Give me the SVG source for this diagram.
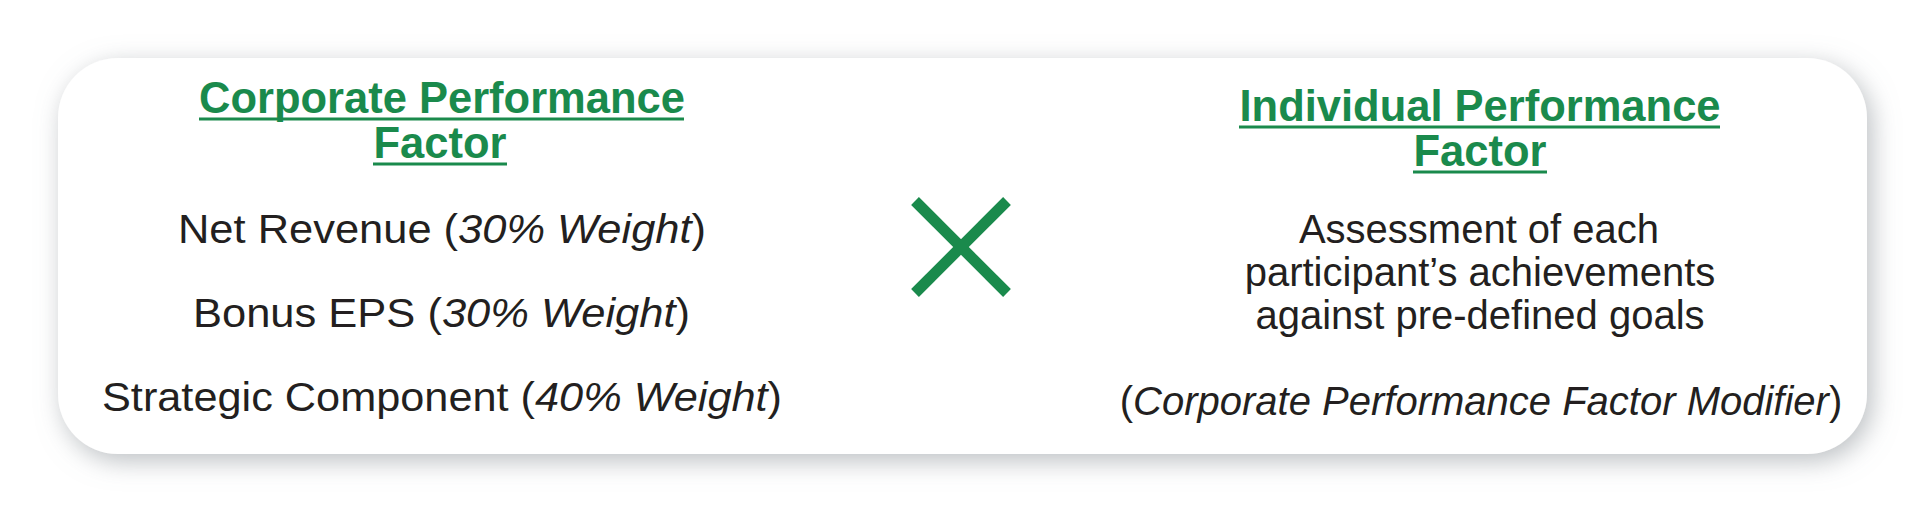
<svg xmlns="http://www.w3.org/2000/svg" width="1926" height="514" viewBox="0 0 1926 514">
  <style>
    .head { font-family: "Liberation Sans", Arial, sans-serif; font-weight: bold; font-size: 43.5px; fill: #1a8a4c; text-anchor: middle; }
    .body { font-family: "Liberation Sans", Arial, sans-serif; font-size: 40px; fill: #231f20; }
    .mid { text-anchor: middle; }
    .it { font-style: italic; }
    .ul { stroke: #1a8a4c; stroke-width: 3; }
    .x { stroke: #1a8a4c; stroke-width: 11; stroke-linecap: butt; }
  </style>
  <defs>
    <filter id="shadow" x="-10%" y="-25%" width="120%" height="150%">
      <feDropShadow dx="5" dy="7" stdDeviation="13" flood-color="#8f959b" flood-opacity="0.6"/>
    </filter>
  </defs>
  <rect width="1926" height="514" fill="#ffffff"/>
  <g id="card">
    <rect x="58" y="58" width="1809" height="396" rx="60" ry="60" fill="#ffffff" filter="url(#shadow)"/>
  </g>
  <g id="corporate-factor">
    <text class="head" x="442" y="113">Corporate Performance</text>
    <line class="ul" x1="199" y1="119" x2="684" y2="119"/>
    <text class="head" x="440" y="158">Factor</text>
    <line class="ul" x1="373" y1="164" x2="507" y2="164"/>
    <text class="body" x="178" y="243" textLength="528" lengthAdjust="spacingAndGlyphs">Net Revenue (<tspan class="it">30% Weight</tspan>)</text>
    <text class="body" x="193" y="327" textLength="497" lengthAdjust="spacingAndGlyphs">Bonus EPS (<tspan class="it">30% Weight</tspan>)</text>
    <text class="body" x="102" y="411" textLength="680" lengthAdjust="spacingAndGlyphs">Strategic Component (<tspan class="it">40% Weight</tspan>)</text>
  </g>
  <g id="connectors">
    <g id="multiply">
      <line class="x" x1="915" y1="201" x2="1007" y2="293"/>
      <line class="x" x1="1007" y1="201" x2="915" y2="293"/>
    </g>
  </g>
  <g id="individual-factor">
    <text class="head" x="1480" y="121">Individual Performance</text>
    <line class="ul" x1="1239" y1="127" x2="1720" y2="127"/>
    <text class="head" x="1480" y="166">Factor</text>
    <line class="ul" x1="1413" y1="172" x2="1547" y2="172"/>
    <text class="body mid" x="1479" y="243">Assessment of each</text>
    <text class="body mid" x="1480" y="286">participant’s achievements</text>
    <text class="body mid" x="1480" y="329">against pre-defined goals</text>
    <text class="body mid" x="1481" y="415">(<tspan class="it">Corporate Performance Factor Modifier</tspan>)</text>
  </g>
</svg>
